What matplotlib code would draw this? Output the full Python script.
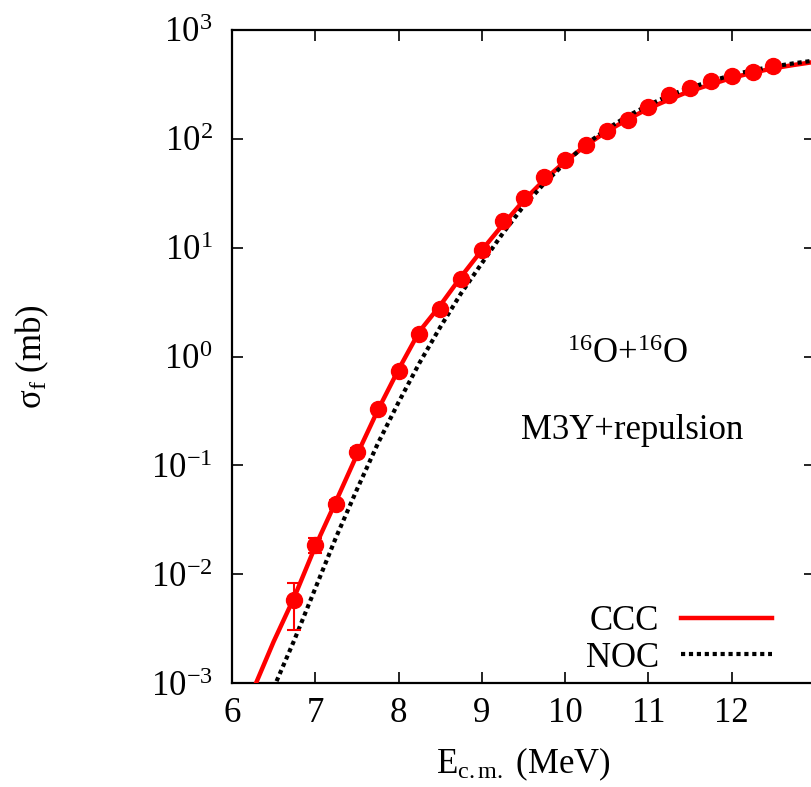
import numpy as np
import matplotlib
matplotlib.use('Agg')
import matplotlib.pyplot as plt

# 字体配置 (Times 风格)
plt.rcParams['font.family'] = ['Liberation Serif', 'DejaVu Serif']
plt.rcParams['mathtext.fontset'] = 'custom'
plt.rcParams['mathtext.rm'] = 'Liberation Serif'
plt.rcParams['mathtext.it'] = 'Liberation Serif:italic'
plt.rcParams['mathtext.default'] = 'rm'
plt.rcParams['axes.unicode_minus'] = False

FS = 25

# 实验数据 (mb)
e_exp = [6.75, 7.0, 7.25, 7.5, 7.75, 8.0, 8.25, 8.5, 8.75, 9.0, 9.25, 9.5, 9.75,
         10.0, 10.25, 10.5, 10.75, 11.0, 11.25, 11.5, 11.75, 12.0, 12.25, 12.5]
sig_exp = [0.0058, 0.0185, 0.044, 0.133, 0.33, 0.74, 1.62, 2.75, 5.1, 9.6, 17.5, 28.5,
           44.5, 64, 88, 118, 150, 195, 255, 293, 340, 378, 410, 465]
err_lo = [0.0027, 0.0027, 0.004, 0.012, 0.02, 0.04, 0.08, 0.12, 0.2, 0.3, 0.5, 0.8,
          1.2, 1.6, 2.0, 3, 3, 4, 5, 6, 6, 7, 8, 9]
err_hi = [0.0025, 0.0028, 0.004, 0.012, 0.02, 0.04, 0.08, 0.12, 0.2, 0.3, 0.5, 0.8,
          1.2, 1.6, 2.0, 3, 3, 4, 5, 6, 6, 7, 8, 9]

# 理论曲线
e_th = [6.25, 6.5, 6.75, 7.0, 7.25, 7.5, 7.75, 8.0, 8.25, 8.5, 8.75, 9.0, 9.25, 9.5,
        9.75, 10.0, 10.25, 10.5, 10.75, 11.0, 11.25, 11.5, 11.75, 12.0, 12.25, 12.5,
        12.75, 13.0]
sig_ccc = [0.00085, 0.0024, 0.0062, 0.018, 0.047, 0.125, 0.32, 0.76, 1.7, 2.95, 5.4,
           9.5, 16.2, 27, 42, 62, 87, 117, 151, 190, 230, 275, 316, 363, 405, 445,
           478, 510]
sig_noc = [0.0003, 0.0009, 0.0025, 0.0074, 0.0219, 0.060, 0.158, 0.38, 0.87, 1.86,
           3.8, 7.2, 13.5, 24, 39, 60, 89, 123, 162, 204, 251, 295, 339, 385, 427,
           462, 495, 525]

fig = plt.figure(figsize=(8.11, 7.87), dpi=100)
ax = fig.add_axes([232 / 811, 104 / 787, 583 / 811, 653 / 787])

ax.plot(e_th, sig_ccc, color='red', lw=3.2, label='CCC', zorder=3)
ax.plot(e_th, sig_noc, color='black', lw=3, ls=(0, (1, 0.9)), label='NOC', zorder=4)
ax.errorbar(e_exp, sig_exp, yerr=[err_lo, err_hi], fmt='o', color='red', ms=11.5,
            elinewidth=1.5, capsize=5, capthick=1.5, zorder=5)

ax.set_yscale('log')
ax.set_xlim(6, 13)
ax.set_ylim(1e-3, 1e3)
ax.set_xticks([6, 7, 8, 9, 10, 11, 12])
ax.yaxis.set_minor_locator(matplotlib.ticker.NullLocator())
ax.tick_params(which='major', direction='in', length=8, width=1.2, top=True, right=True,
               labelsize=FS)
ax.tick_params(axis='y', pad=14)
ax.tick_params(axis='x', pad=10)
for s in ax.spines.values():
    s.set_linewidth(1.6)

ax.set_xlabel(r'E$_{\mathrm{c.m.}}$ (MeV)', fontsize=FS, labelpad=11)
ax.set_ylabel(r'σ$_\mathrm{f}$ (mb)', fontsize=FS, labelpad=72)

ax.text(10.75, 1.05, r'$^{16}$O+$^{16}$O', fontsize=FS, ha='center', va='center')
ax.text(10.8, 0.21, 'M3Y+repulsion', fontsize=FS, ha='center', va='center')

ax.legend(loc='lower right', bbox_to_anchor=(0.98, -0.035), frameon=False, fontsize=FS,
          markerfirst=False, handlelength=2.62, labelspacing=0.1, handletextpad=0.63)

fig.savefig('out.png', dpi=100)
